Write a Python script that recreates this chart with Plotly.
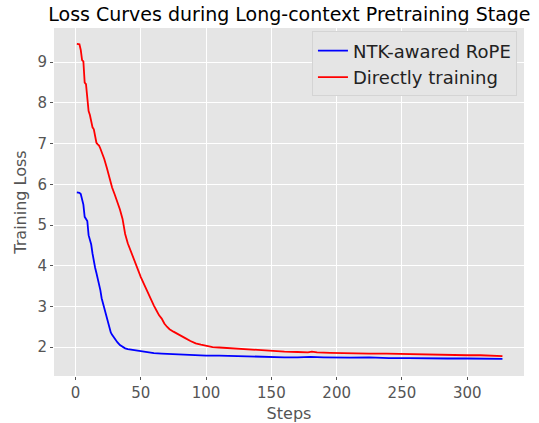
import plotly.graph_objects as go

title_text = "Loss Curves during Long-context Pretraining Stage"
x_label = "Steps"
y_label = "Training Loss"

ntk_name = "NTK-awared RoPE"
ntk_steps = [1, 2, 3, 4, 5, 6, 7, 8, 9, 10, 11, 12, 13, 14, 15, 16, 17, 18, 19, 20,
             21, 22, 23, 24, 25, 26, 27, 28, 30, 32, 34, 36, 38, 40, 44, 48, 52, 56,
             60, 66, 72, 80, 90, 100, 110, 120, 130, 140, 150, 160, 170, 180, 190,
             200, 210, 225, 240, 255, 270, 285, 300, 315, 327]
ntk_loss = [5.80, 5.79, 5.79, 5.76, 5.60, 5.50, 5.20, 5.15, 5.10, 4.75, 4.62, 4.52,
            4.30, 4.10, 3.95, 3.82, 3.70, 3.55, 3.40, 3.20, 3.08, 2.95, 2.80, 2.68,
            2.55, 2.45, 2.36, 2.30, 2.20, 2.12, 2.05, 2.00, 1.97, 1.95, 1.93, 1.91,
            1.88, 1.86, 1.85, 1.84, 1.83, 1.81, 1.80, 1.79, 1.79, 1.78, 1.77, 1.76,
            1.76, 1.75, 1.75, 1.76, 1.75, 1.74, 1.74, 1.75, 1.73, 1.73, 1.72, 1.72,
            1.72, 1.71, 1.71]

direct_name = "Directly training"
direct_steps = [1, 2, 3, 4, 5, 6, 7, 8, 9, 10, 11, 12, 13, 14, 15, 16, 17, 18, 19, 20,
                22, 24, 26, 28, 30, 32, 34, 36, 37, 38, 40, 42, 44, 46, 48, 50, 52, 54,
                56, 58, 60, 62, 64, 66, 68, 70, 72, 75, 78, 80, 84, 88, 92, 96, 100,
                105, 110, 115, 120, 130, 140, 150, 160, 170, 178, 181, 185, 195, 205,
                215, 225, 238, 250, 262, 275, 290, 300, 310, 320, 327]
direct_loss = [9.45, 9.45, 9.44, 9.30, 9.05, 9.02, 8.50, 8.46, 8.20, 7.80, 7.70, 7.55,
               7.40, 7.35, 7.20, 7.02, 6.98, 6.95, 6.88, 6.80, 6.62, 6.40, 6.15, 5.92,
               5.75, 5.57, 5.38, 5.15, 4.90, 4.78, 4.55, 4.38, 4.22, 4.05, 3.85, 3.72,
               3.58, 3.43, 3.30, 3.15, 3.02, 2.90, 2.78, 2.70, 2.58, 2.50, 2.44, 2.38,
               2.32, 2.28, 2.22, 2.15, 2.09, 2.06, 2.03, 2.00, 1.99, 1.98, 1.96, 1.94,
               1.92, 1.91, 1.89, 1.88, 1.87, 1.89, 1.87, 1.86, 1.85, 1.85, 1.84, 1.84,
               1.83, 1.82, 1.82, 1.81, 1.80, 1.80, 1.79, 1.78]

x_ticks = [0, 50, 100, 150, 200, 250, 300]
y_ticks = [2, 3, 4, 5, 6, 7, 8, 9]

FONT = "DejaVu Sans"

fig = go.Figure()
fig.add_trace(go.Scatter(x=ntk_steps, y=ntk_loss, mode="lines", name=ntk_name,
                         line=dict(color="blue", width=1.8)))
fig.add_trace(go.Scatter(x=direct_steps, y=direct_loss, mode="lines", name=direct_name,
                         line=dict(color="red", width=1.8)))

fig.update_layout(
    width=539, height=423,
    margin=dict(l=54, r=15, t=28, b=47, autoexpand=False),
    paper_bgcolor="white",
    plot_bgcolor="#E5E5E5",
    font=dict(family=FONT, size=15, color="#555555"),
    title=dict(text=title_text, x=0.537, xanchor="center", y=0.966, yanchor="middle",
               font=dict(family=FONT, size=19, color="black")),
    showlegend=True,
    legend=dict(x=0.985, xanchor="right", y=0.99, yanchor="top",
                bgcolor="#E5E5E5", bordercolor="#D4D4D4", borderwidth=1,
                font=dict(family=FONT, size=18, color="#222222"),
                itemwidth=30, tracegroupgap=0),
)
fig.update_xaxes(range=[-16.5, 343.5], tickvals=x_ticks, showgrid=True,
                 gridcolor="white", gridwidth=1, zeroline=False, showline=False,
                 ticks="outside", ticklen=3, tickwidth=1, tickcolor="#555555",
                 tickfont=dict(size=15, color="#555555"), automargin=False,
                 title=dict(text=x_label, font=dict(size=16, color="#555555"), standoff=8))
fig.update_yaxes(range=[1.29, 9.84], tickvals=y_ticks, showgrid=True,
                 gridcolor="white", gridwidth=1, zeroline=False, showline=False,
                 ticks="outside", ticklen=3, tickwidth=1, tickcolor="#555555",
                 tickfont=dict(size=15, color="#555555"), automargin=False,
                 title=dict(text=y_label, font=dict(size=16, color="#555555"), standoff=6))

fig.write_html("out.html", config={"displayModeBar": False},
               post_script="document.body.style.margin='0';document.body.style.overflow='hidden';")
